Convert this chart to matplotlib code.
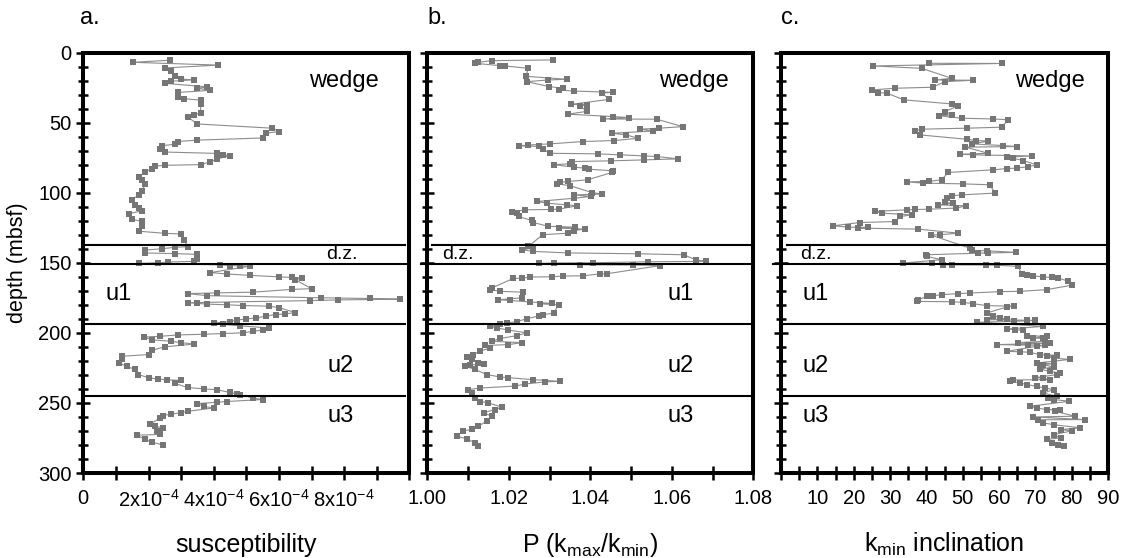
import numpy as np
import matplotlib
matplotlib.use("Agg")
import matplotlib.pyplot as plt

plt.rcParams['font.family'] = ['Liberation Sans', 'DejaVu Sans']
plt.rcParams['mathtext.default'] = 'regular'
plt.rcParams['axes.unicode_minus'] = False

# a. susceptibility (x 1e-4 SI) against depth (mbsf)
depth_a = [5.5, 7, 9, 11, 13, 17, 19, 19.5, 20.5, 22, 24.5, 25.5, 27, 28.5, 32, 33, 34, 37,
           43, 44.5, 46, 51, 54, 56.5, 57.5, 61, 62.5, 63.5, 65.5, 66.5, 68.5, 71, 72, 73,
           73.5, 76, 78, 80, 80.5, 81, 83, 85, 89, 91, 93.5, 99, 101.5, 105, 108.5, 111,
           113, 115, 119, 120.5, 124, 127.5, 129, 129.5, 134, 138.5, 139, 140, 141, 143,
           143.5, 144, 147, 149, 149.5, 150, 150.5, 151.5, 152, 152.2, 152.5, 157, 158,
           159, 160, 160.5, 161, 162, 168.5, 169, 171, 171.5, 172, 173.5, 175, 175.5, 176,
           176.5, 177, 178.5, 179, 179.5, 180, 180.5, 181, 182, 185.5, 186.5, 187, 188,
           189.5, 190, 191, 192, 193, 194, 195, 196.5, 198, 199, 200, 200.5, 201, 201.5,
           202.5, 203, 205, 206, 207, 208, 210, 212.5, 215.5, 216.7, 219, 221.5, 224, 226,
           229.8, 232, 233, 233.5, 234, 236, 239, 240, 240.6, 242.5, 243.5, 244, 246.5,
           247.6, 249, 249.5, 250.5, 252.5, 253.6, 256, 257, 258, 259, 261, 265, 266.5,
           268, 270, 272.5, 273, 276, 278, 280]
sus_a = [2.66, 1.53, 4.14, 2.5, 2.7, 2.8, 3.0, 3.4, 2.7, 2.5, 3.8, 3.5, 3.9, 2.9, 2.9, 3.1,
         3.6, 3.6, 3.6, 3.4, 3.2, 3.5, 5.8, 6.0, 5.6, 5.5, 3.5, 2.9, 2.8, 2.4, 2.35, 2.5,
         4.1, 4.3, 4.5, 4.1, 3.9, 3.6, 2.5, 2.2, 2.1, 1.9, 1.7, 1.8, 1.9, 1.8, 1.7, 1.5,
         1.6, 1.7, 1.8, 1.4, 1.5, 1.8, 1.8, 1.7, 2.5, 3.0, 3.1, 3.2, 2.8, 2.4, 1.9, 1.9,
         2.8, 3.5, 3.5, 3.4, 2.6, 2.3, 1.7, 4.2, 4.5, 4.8, 5.1, 3.9, 4.4, 5.1, 6.0, 6.4,
         6.7, 6.5, 7.0, 6.4, 5.2, 4.1, 3.2, 3.8, 7.3, 8.8, 9.7, 7.8, 6.95, 3.2, 3.5, 3.8,
         4.4, 4.9, 5.7, 6.0, 6.5, 6.2, 5.9, 5.6, 5.3, 5.0, 4.7, 4.5, 4.0, 4.3, 4.8, 5.7,
         5.5, 5.2, 4.9, 4.3, 3.7, 2.9, 2.35, 1.85, 2.1, 2.7, 3.0, 3.4, 2.5, 2.1, 2.0, 1.18,
         1.2, 1.1, 1.33, 1.58, 1.69, 2.0, 2.3, 2.56, 3.0, 2.8, 3.2, 3.7, 4.1, 4.5, 4.7,
         4.8, 5.2, 5.5, 4.4, 4.1, 3.5, 3.7, 4.0, 3.2, 3.0, 2.7, 2.45, 2.35, 2.05, 2.2,
         2.45, 2.25, 2.35, 1.64, 1.9, 2.1, 2.45]

# b. anisotropy degree P against depth
depth_b = [5.3, 5.8, 7.0, 7.7, 9.4, 9.6, 11.3, 17.0, 19.1, 19.6, 20.8, 24.3, 25.5, 26.7, 27.5,
           28.4, 29.0, 33.4, 37.0, 37.4, 38.0, 42.0, 44.0, 45.7, 46.4, 47.4, 47.6, 52.9,
           54.0, 54.7, 56.0, 57.6, 58.8, 61.2, 62.8, 63.5, 65.2, 66.0, 66.6, 67.0, 69.0,
           71.9, 72.3, 73.0, 73.8, 74.2, 75.9, 76.6, 77.3, 77.8, 79.4, 80.0, 81.8, 82.5,
           83.3, 84.4, 85.6, 90.8, 92.0, 92.5, 93.7, 95.0, 99.9, 101.0, 101.6, 102.7, 104.0,
           106.3, 107.5, 108.7, 109.4, 111.8, 112.0, 112.2, 114.0, 114.6, 117.0, 119.8,
           121.3, 124.0, 124.6, 125.3, 126.0, 127.0, 128.9, 130.0, 138.4, 139.5, 140.7,
           141.9, 143.0, 143.6, 144.3, 148.0, 149.0, 149.3, 150.0, 150.2, 150.5, 151.4,
           151.6, 152.0, 157.8, 158.0, 159.3, 159.5, 160.0, 160.2, 161.0, 161.2, 168.0,
           169.2, 170.4, 171.0, 175.0, 176.4, 176.9, 178.0, 179.0, 179.2, 180.0, 186.0,
           187.0, 188.0, 190.0, 192.0, 193.0, 194.0, 195.4, 196.5, 198.0, 200.0, 202.0,
           204.0, 206.0, 207.0, 208.4, 209.0, 211.0, 213.0, 215.6, 217.3, 219.0, 221.5,
           222.0, 223.0, 224.0, 226.0, 229.8, 231.5, 232.0, 233.4, 234.6, 235.0, 236.5,
           238.0, 239.4, 240.5, 243.0, 246.4, 249.0, 250.0, 253.0, 254.8, 257.0, 259.5,
           263.0, 266.6, 268.9, 270.0, 273.7, 275.6, 278.5, 281.0]
p_b = [1.0308, 1.0158, 1.0125, 1.0117, 1.0179, 1.0191, 1.0248, 1.0242, 1.0342, 1.0297,
       1.0244, 1.0299, 1.0334, 1.0322, 1.0360, 1.0455, 1.0428, 1.0447, 1.0353, 1.0391,
       1.0375, 1.0391, 1.0345, 1.0455, 1.0494, 1.0432, 1.0563, 1.0627, 1.0568, 1.0523,
       1.0555, 1.0453, 1.0488, 1.0518, 1.0459, 1.0383, 1.0300, 1.0248, 1.0224, 1.0273,
       1.0285, 1.0300, 1.0419, 1.0472, 1.0531, 1.0563, 1.0615, 1.0531, 1.0451, 1.0355,
       1.0350, 1.0310, 1.0360, 1.0386, 1.0398, 1.0455, 1.0453, 1.0394, 1.0345, 1.0326,
       1.0318, 1.0350, 1.0404, 1.0428, 1.0359, 1.0401, 1.0359, 1.0269, 1.0293, 1.0342,
       1.0367, 1.0322, 1.0303, 1.0240, 1.0207, 1.0219, 1.0224, 1.0256, 1.0260, 1.0297,
       1.0363, 1.0322, 1.0386, 1.0359, 1.0346, 1.0283, 1.0248, 1.0260, 1.0232, 1.0260,
       1.0345, 1.0518, 1.0629, 1.0660, 1.0685, 1.0541, 1.0406, 1.0310, 1.0275, 1.0375,
       1.0506, 1.0572, 1.0442, 1.0423, 1.0382, 1.0334, 1.0305, 1.0252, 1.0232, 1.0211,
       1.0158, 1.0154, 1.0179, 1.0236, 1.0232, 1.0174, 1.0203, 1.0252, 1.0305, 1.0277,
       1.0322, 1.0310, 1.0285, 1.0273, 1.0244, 1.0219, 1.0195, 1.0179, 1.0154, 1.0170,
       1.0199, 1.0244, 1.0220, 1.0179, 1.0158, 1.0232, 1.0199, 1.0142, 1.0154, 1.0129,
       1.0113, 1.0097, 1.0110, 1.0125, 1.0138, 1.0105, 1.0093, 1.0117, 1.0146, 1.0179,
       1.0199, 1.0260, 1.0326, 1.0289, 1.0240, 1.0215, 1.0129, 1.0101, 1.0109, 1.0117,
       1.0129, 1.0150, 1.0183, 1.0166, 1.0138, 1.0158, 1.0146, 1.0125, 1.0109, 1.0088,
       1.0072, 1.0097, 1.0117, 1.0125]

# c. inclination of k_min (degrees) against depth
depth_c = [7.7, 7.8, 9.6, 11.3, 18.4, 19.6, 19.8, 20.8, 24.8, 25.5, 26.7, 28.6, 29.0, 33.8,
           36.7, 38.0, 42.2, 44.5, 45.2, 46.9, 47.4, 48.0, 53.3, 54.0, 54.7, 56.0, 58.8,
           61.9, 62.8, 63.2, 65.2, 66.4, 67.1, 67.5, 71.9, 72.6, 73.0, 73.8, 74.7, 75.4,
           77.1, 80.2, 81.4, 82.5, 82.8, 83.7, 85.6, 90.8, 92.0, 92.3, 93.2, 93.7, 94.4,
           100.3, 101.6, 102.3, 104.0, 107.0, 107.5, 108.7, 109.4, 111.0, 111.8, 112.0,
           112.2, 113.4, 114.6, 115.8, 117.0, 120.6, 121.3, 123.6, 124.6, 124.8, 125.3,
           126.0, 128.9, 130.0, 130.2, 139.6, 141.2, 141.5, 142.6, 143.0, 143.2, 144.3,
           145.5, 147.8, 150.2, 150.3, 151.4, 151.5, 151.6, 151.8, 152.6, 157.8, 158.6,
           159.3, 160.2, 160.4, 161.0, 163.0, 166.0, 169.2, 170.4, 170.6, 171.6, 172.0,
           172.8, 173.5, 174.0, 176.4, 177.6, 177.8, 178.3, 179.2, 180.6, 181.0, 181.6,
           185.9, 187.8, 189.4, 190.1, 190.6, 191.0, 191.2, 191.8, 192.5, 195.4, 197.3,
           197.7, 198.2, 202.0, 202.5, 203.7, 204.0, 206.0, 207.0, 207.5, 208.4, 208.8,
           209.0, 209.6, 213.2, 213.5, 213.9, 215.6, 216.0, 216.8, 218.0, 219.0, 221.5,
           222.0, 222.7, 224.4, 225.8, 227.5, 228.6, 229.8, 232.0, 232.3, 233.4, 233.6,
           234.6, 235.7, 237.0, 238.1, 239.4, 240.5, 243.0, 245.3, 246.4, 247.6, 248.8,
           252.4, 253.6, 254.8, 255.0, 256.0, 259.5, 260.0, 261.9, 262.0, 264.3, 265.5,
           267.8, 269.0, 270.0, 272.6, 275.0, 276.0, 278.5, 279.7, 281.0]
inc_c = [40.6, 60.7, 25.4, 38.7, 47.0, 42.4, 52.8, 45.1, 41.7, 31.4, 25.0, 26.8, 29.1, 33.9,
         47.0, 48.8, 45.1, 47.2, 43.6, 49.7, 58.3, 62.6, 60.7, 51.1, 38.7, 36.9, 38.3,
         51.1, 53.8, 57.1, 52.5, 61.2, 65.0, 50.7, 57.1, 49.3, 52.8, 69.0, 62.1, 63.8,
         66.7, 70.4, 68.1, 64.9, 62.1, 58.4, 46.0, 44.2, 40.6, 34.6, 39.2, 50.0, 57.5,
         58.9, 49.7, 47.0, 45.6, 45.1, 47.4, 43.3, 50.9, 48.3, 40.6, 36.9, 34.6, 25.9,
         27.7, 36.0, 32.8, 31.4, 21.7, 14.4, 18.5, 24.0, 21.3, 37.8, 48.8, 43.8, 41.2,
         52.0, 52.5, 56.6, 64.7, 57.1, 54.3, 39.9, 40.1, 44.2, 33.7, 41.5, 44.7, 47.0,
         56.4, 59.4, 65.3, 66.2, 67.6, 69.4, 72.2, 74.5, 76.3, 79.0, 80.0, 73.1, 65.8,
         60.3, 52.0, 48.8, 44.2, 41.9, 40.1, 37.8, 37.3, 47.0, 50.2, 52.9, 56.6, 64.0,
         62.1, 56.6, 58.4, 60.3, 62.1, 56.6, 67.6, 69.9, 64.0, 53.9, 72.2, 62.1, 64.4,
         66.7, 67.6, 73.1, 69.4, 72.2, 72.7, 65.3, 74.0, 59.4, 68.1, 72.7, 70.4, 62.1,
         65.8, 68.5, 71.3, 75.9, 73.1, 75.0, 79.5, 70.4, 75.0, 72.2, 75.0, 71.3, 74.0,
         76.8, 75.9, 69.9, 72.2, 74.0, 63.9, 63.1, 65.8, 67.6, 70.4, 72.7, 75.0, 72.2,
         76.0, 73.6, 75.0, 79.4, 68.5, 70.4, 73.1, 76.8, 75.4, 81.0, 69.4, 83.7, 70.8,
         72.2, 75.0, 82.4, 77.2, 80.0, 75.0, 77.0, 73.1, 74.5, 76.3, 78.0]

# unit boundaries (mbsf)
boundaries = [137, 151, 194, 245]
# horizontal extent of each boundary line per panel (axes fraction)
line_spans = [
    [(0.0, 0.987), (0.0, 1.0), (0.0, 0.987), (0.0, 0.987)],
    [(0.013, 0.99), (-0.02, 1.0), (0.0, 0.99), (0.0, 0.99)],
    [(0.017, 1.0), (-0.025, 1.0), (0.0, 1.0), (0.0, 1.0)],
]

xlims = [(0, 10e-4), (1.00, 1.08), (0, 90)]
xticks = [np.arange(0, 11) * 1e-4,
          [1.00, 1.01, 1.02, 1.03, 1.04, 1.05, 1.06, 1.07, 1.08],
          np.arange(0, 95, 5)]
xticklabels = [['0', '', '2x10$^{-4}$', '', '4x10$^{-4}$', '', '6x10$^{-4}$', '', '8x10$^{-4}$', '', ''],
               ['1.00', '', '1.02', '', '1.04', '', '1.06', '', '1.08'],
               ['' if (v == 0 or v % 10) else str(v) for v in range(0, 95, 5)]]
xlabels = ['susceptibility', 'P (k$_{max}$/k$_{min}$)', 'k$_{min}$ inclination']
panel_tags = ['a.', 'b.', 'c.']

W, H = 1126, 558
fig = plt.figure(figsize=(W / 100, H / 100), dpi=100)
lefts = [83.3, 427.3, 781]
widths = [326, 326, 327]
top, bottom = 52.5, 473

series = [(np.array(sus_a) * 1e-4, depth_a), (p_b, depth_b), (inc_c, depth_c)]

axes = []
for i in range(3):
    ax = fig.add_axes((lefts[i] / W, 1 - bottom / H, widths[i] / W, (bottom - top) / H))
    axes.append(ax)
    x, d = series[i]
    ax.plot(x, d, '-', color='#8c8c8c', lw=0.8, zorder=2)
    ax.plot(x, d, 's', color='#767676', ms=4.4, mew=0, zorder=3)

    ax.set_ylim(300, 0)
    ax.set_xlim(*xlims[i])
    ax.set_yticks(np.arange(0, 301, 50))
    ax.set_yticks(np.arange(0, 301, 10), minor=True)
    ax.set_xticks(xticks[i])
    ax.set_xticklabels(xticklabels[i])
    for s in ax.spines.values():
        s.set_linewidth(2.9)
    ax.tick_params(axis='both', which='both', direction='inout', top=False, right=False,
                   width=1.8, labelsize=14.5)
    ax.tick_params(axis='y', which='major', length=10)
    ax.tick_params(axis='y', which='minor', length=6.5)
    ax.tick_params(axis='x', which='major', length=9.5, pad=7)
    if i > 0:
        ax.tick_params(axis='y', labelleft=False)
    ax.set_xlabel(xlabels[i], fontsize=18, labelpad=16)
    ax.text(0.0 if i else -0.01, 1.081, panel_tags[i], transform=ax.transAxes,
            fontsize=17, ha='left', va='center')

    for b, (x0, x1) in zip(boundaries, line_spans[i]):
        ax.axhline(b, x0, x1, color='black', lw=1.5, zorder=4, clip_on=False)

axes[0].set_ylabel('depth (mbsf)', fontsize=15.5)
axes[0].yaxis.set_label_coords(-0.17, 0.5)

# unit annotations
text_kw = dict(fontsize=17, va='center')
for ax, xr in zip(axes, [0.905, 0.925, 0.93]):
    ax.text(xr, 20, 'wedge', ha='right', transform=ax.get_yaxis_transform(), **text_kw)

axes[0].text(0.84, 144, 'd.z.', ha='right', fontsize=14, va='center',
             transform=axes[0].get_yaxis_transform())
axes[1].text(0.046, 144, 'd.z.', ha='left', fontsize=14, va='center',
             transform=axes[1].get_yaxis_transform())
axes[2].text(0.058, 144, 'd.z.', ha='left', fontsize=14, va='center',
             transform=axes[2].get_yaxis_transform())

unit_pos = {
    'u1': [(0.067, 172), (0.738, 172), (0.067, 172)],
    'u2': [(0.748, 224), (0.738, 224), (0.067, 224)],
    'u3': [(0.748, 259), (0.738, 259), (0.067, 259)],
}
for name, pos in unit_pos.items():
    for ax, (xf, dep) in zip(axes, pos):
        ax.text(xf, dep, name, ha='left', transform=ax.get_yaxis_transform(), **text_kw)

fig.savefig('out.png', dpi=100)
